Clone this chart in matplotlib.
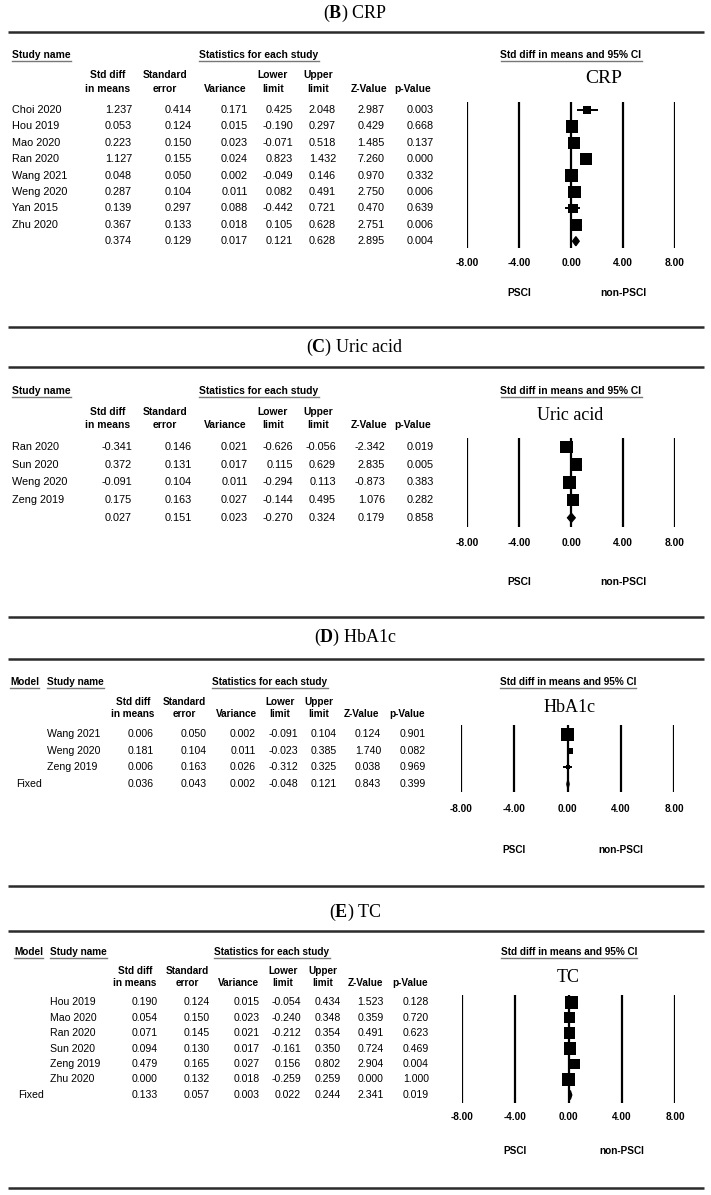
import matplotlib
matplotlib.use('Agg')
import matplotlib.pyplot as plt
import matplotlib.transforms as mtransforms
from matplotlib import font_manager
import numpy as np

W, H = 711, 1195

# (B) CRP
crp_names = ['Choi 2020', 'Hou 2019', 'Mao 2020', 'Ran 2020', 'Wang 2021', 'Weng 2020', 'Yan 2015', 'Zhu 2020']
crp_smd = [1.237, 0.053, 0.223, 1.127, 0.048, 0.287, 0.139, 0.367]
crp_se = [0.414, 0.124, 0.150, 0.155, 0.050, 0.104, 0.297, 0.133]
crp_var = [0.171, 0.015, 0.023, 0.024, 0.002, 0.011, 0.088, 0.018]
crp_lo = [0.425, -0.190, -0.071, 0.823, -0.049, 0.082, -0.442, 0.105]
crp_hi = [2.048, 0.297, 0.518, 1.432, 0.146, 0.491, 0.721, 0.628]
crp_z = [2.987, 0.429, 1.485, 7.260, 0.970, 2.750, 0.470, 2.751]
crp_p = [0.003, 0.668, 0.137, 0.000, 0.332, 0.006, 0.639, 0.006]
crp_total = [0.374, 0.129, 0.017, 0.121, 0.628, 2.895, 0.004]

# (C) Uric acid
ua_names = ['Ran 2020', 'Sun 2020', 'Weng 2020', 'Zeng 2019']
ua_smd = [-0.341, 0.372, -0.091, 0.175]
ua_se = [0.146, 0.131, 0.104, 0.163]
ua_var = [0.021, 0.017, 0.011, 0.027]
ua_lo = [-0.626, 0.115, -0.294, -0.144]
ua_hi = [-0.056, 0.629, 0.113, 0.495]
ua_z = [-2.342, 2.835, -0.873, 1.076]
ua_p = [0.019, 0.005, 0.383, 0.282]
ua_total = [0.027, 0.151, 0.023, -0.270, 0.324, 0.179, 0.858]

# (D) HbA1c
hb_names = ['Wang 2021', 'Weng 2020', 'Zeng 2019']
hb_smd = [0.006, 0.181, 0.006]
hb_se = [0.050, 0.104, 0.163]
hb_var = [0.002, 0.011, 0.026]
hb_lo = [-0.091, -0.023, -0.312]
hb_hi = [0.104, 0.385, 0.325]
hb_z = [0.124, 1.740, 0.038]
hb_p = [0.901, 0.082, 0.969]
hb_total = [0.036, 0.043, 0.002, -0.048, 0.121, 0.843, 0.399]

# (E) TC
tc_names = ['Hou 2019', 'Mao 2020', 'Ran 2020', 'Sun 2020', 'Zeng 2019', 'Zhu 2020']
tc_smd = [0.190, 0.054, 0.071, 0.094, 0.479, 0.000]
tc_se = [0.124, 0.150, 0.145, 0.130, 0.165, 0.132]
tc_var = [0.015, 0.023, 0.021, 0.017, 0.027, 0.018]
tc_lo = [-0.054, -0.240, -0.212, -0.161, 0.156, -0.259]
tc_hi = [0.434, 0.348, 0.354, 0.350, 0.802, 0.259]
tc_z = [1.523, 0.359, 0.491, 0.724, 2.904, 0.000]
tc_p = [0.128, 0.720, 0.623, 0.469, 0.004, 1.000]
tc_total = [0.133, 0.057, 0.003, 0.022, 0.244, 2.341, 0.019]

col_heads = [('Std diff', 'in means'), ('Standard', 'error'), ('', 'Variance'),
             ('Lower', 'limit'), ('Upper', 'limit'), ('', 'Z-Value'), ('', 'p-Value')]
tick_vals = [-8, -4, 0, 4, 8]
tick_labels = ['-8.00', '-4.00', '0.00', '4.00', '8.00']

installed = {f.name for f in font_manager.fontManager.ttflist}
SANS = 'Liberation Sans'
NARROW = 'Liberation Sans Narrow' if 'Liberation Sans Narrow' in installed else 'Liberation Sans'
SERIF = 'Liberation Serif'

plt.rcParams['mathtext.fontset'] = 'custom'
plt.rcParams['mathtext.rm'] = SERIF
plt.rcParams['mathtext.bf'] = SERIF + ':bold'

fig = plt.figure(figsize=(W / 100, H / 100), dpi=100)
cv = fig.add_axes([0, 0, 1, 1])
cv.set_xlim(0, W)
cv.set_ylim(H, 0)
cv.axis('off')
renderer = fig.canvas.get_renderer()


def hrule(y):
    cv.plot([8, 704], [y, y], color='#2b2b2b', lw=1.8, solid_capstyle='butt')


def uheader(x, y, s, ha, fam, size):
    t = cv.text(x, y, s, ha=ha, va='center', fontsize=size, fontweight='bold', family=fam)
    bb = t.get_window_extent(renderer=renderer).transformed(cv.transData.inverted())
    cv.plot([bb.x0, bb.x1], [y + 6, y + 6], color='#777777', lw=1.0)


def draw_panel(lay, names, smd, se, var, lo, hi, z, p, total, fixed, fam, size):
    cv.text(355, lay['title'], r'($\mathbf{%s}$) %s' % (lay['letter'], lay['name']),
            ha='center', va='center', fontsize=13, family=SERIF)
    hrule(lay['rule_top'])
    hrule(lay['rule_bottom'])

    hy = lay['hdr']
    hsize = size - 0.4
    if fixed:
        uheader(lay['model_x'], hy, 'Model', 'left', fam, hsize)
    uheader(lay['name_x'], hy, 'Study name', 'left', fam, hsize)
    uheader(lay['stat_x'], hy, 'Statistics for each study', 'center', fam, hsize)
    uheader(lay['ci_x'], hy, 'Std diff in means and 95% CI', 'center', fam, hsize)
    for cx, (a, b) in zip(lay['hdr_x'], col_heads):
        cv.text(cx, lay['hdr2'][0], a, ha='center', va='center', fontsize=hsize,
                fontweight='bold', family=fam)
        cv.text(cx, lay['hdr2'][1], b, ha='center', va='center', fontsize=hsize,
                fontweight='bold', family=fam)
    cv.text(lay['label_xy'][0], lay['label_xy'][1], lay['name'], ha='center', va='center',
            fontsize=lay['label_size'], family=SERIF)

    # table
    n = len(names)
    r0, d = lay['r0'], lay['d']
    cols = [smd, se, var, lo, hi, z, p]
    for i in range(n):
        y = r0 + i * d
        cv.text(lay['name_x'], y, names[i], ha='left', va='center', fontsize=size, family=fam)
        for j, cx in enumerate(lay['num_x']):
            cv.text(cx, y, '%.3f' % cols[j][i], ha='right', va='center', fontsize=size, family=fam)
    yt = r0 + n * d
    if fixed:
        cv.text(lay['fixed_x'], yt, 'Fixed', ha='left', va='center', fontsize=size, family=fam)
    for j, cx in enumerate(lay['num_x']):
        cv.text(cx, yt, '%.3f' % total[j], ha='right', va='center', fontsize=size, family=fam)

    # forest plot
    left, right, top, bottom = lay['box']
    ax = fig.add_axes([left / W, 1 - bottom / H, (right - left) / W, (bottom - top) / H])
    y_top = -(r0 - top) / d
    y_bot = n + (bottom - (r0 + n * d)) / d
    ax.set_xlim(-8, 8)
    ax.set_ylim(y_bot, y_top)
    ax.patch.set_alpha(0)
    for s in ax.spines.values():
        s.set_visible(False)
    ax.set_yticks([])
    ax.vlines(tick_vals, y_top, y_bot, color='black', lw=1.6)
    ax.set_xticks(tick_vals)
    ax.set_xticklabels(tick_labels, fontsize=hsize, fontweight='bold', family=fam)
    ax.tick_params(axis='x', length=0, pad=(lay['ticky'] - bottom - 5) * 0.72)

    rows = np.arange(n)
    w = 1 / np.array(se) ** 2
    if not fixed:
        yv = np.array(smd)
        m = np.sum(w * yv) / np.sum(w)
        q = np.sum(w * (yv - m) ** 2)
        c = w.sum() - (w ** 2).sum() / w.sum()
        tau2 = max(0.0, (q - (n - 1)) / c)
        w = 1 / (np.array(se) ** 2 + tau2)
    side = 13 * np.sqrt(w / w.max())
    ax.hlines(rows, lo, hi, color='black', lw=1.4, zorder=2)
    ax.scatter(smd, rows, marker='s', s=(side * 0.72) ** 2, color='black', linewidths=0, zorder=3)
    h = 4.5 / d
    ax.fill([total[3], total[0], total[4], total[0]], [n, n - h, n, n + h], color='black', zorder=3)

    tr = mtransforms.blended_transform_factory(ax.transData, cv.transData)
    ax.text(-4, lay['labely'], 'PSCI', transform=tr, ha='center', va='center',
            fontsize=hsize, fontweight='bold', family=fam)
    ax.text(4, lay['labely'], 'non-PSCI', transform=tr, ha='center', va='center',
            fontsize=hsize, fontweight='bold', family=fam)


lay_b = dict(letter='B', name='CRP', title=13, rule_top=32, rule_bottom=327, hdr=55, hdr2=(75, 89),
             label_xy=(604, 78), label_size=14, name_x=12, stat_x=259, ci_x=571,
             hdr_x=[108, 165, 225, 273, 318, 369, 413],
             num_x=[132, 192, 248, 293, 336, 385, 434],
             r0=110, d=16.4, box=(467, 675, 102, 248), ticky=263, labely=293)
lay_c = dict(letter='C', name='Uric acid', title=347, rule_top=367, rule_bottom=617, hdr=391, hdr2=(412, 425),
             label_xy=(570, 415), label_size=13, name_x=12, stat_x=259, ci_x=571,
             hdr_x=[108, 165, 225, 273, 318, 369, 413],
             num_x=[132, 192, 248, 293, 336, 385, 434],
             r0=447, d=17.7, box=(467, 675, 438, 527), ticky=543, labely=582)
lay_d = dict(letter='D', name='HbA1c', title=637, rule_top=659, rule_bottom=886, hdr=682, hdr2=(702, 714),
             label_xy=(570, 707), label_size=13, model_x=10, name_x=47, fixed_x=16, stat_x=270, ci_x=568,
             hdr_x=[133, 184, 236, 280, 319, 362, 407],
             num_x=[154, 207, 256, 298, 337, 381, 426],
             r0=734, d=16.7, box=(461, 674, 725, 792), ticky=809, labely=850)
lay_e = dict(letter='E', name='TC', title=912, rule_top=931, rule_bottom=1188, hdr=952, hdr2=(971, 983),
             label_xy=(568, 977), label_size=13, model_x=14, name_x=50, fixed_x=18, stat_x=272, ci_x=569,
             hdr_x=[135, 187, 239, 283, 323, 366, 410],
             num_x=[158, 210, 260, 301, 341, 384, 429],
             r0=1002, d=15.5, box=(462, 675, 995, 1103), ticky=1117, labely=1151)

draw_panel(lay_b, crp_names, crp_smd, crp_se, crp_var, crp_lo, crp_hi, crp_z, crp_p, crp_total, False, SANS, 7.8)
draw_panel(lay_c, ua_names, ua_smd, ua_se, ua_var, ua_lo, ua_hi, ua_z, ua_p, ua_total, False, SANS, 7.8)
draw_panel(lay_d, hb_names, hb_smd, hb_se, hb_var, hb_lo, hb_hi, hb_z, hb_p, hb_total, True, NARROW, 7.6)
draw_panel(lay_e, tc_names, tc_smd, tc_se, tc_var, tc_lo, tc_hi, tc_z, tc_p, tc_total, True, NARROW, 7.6)

fig.savefig('out.png', dpi=100)
